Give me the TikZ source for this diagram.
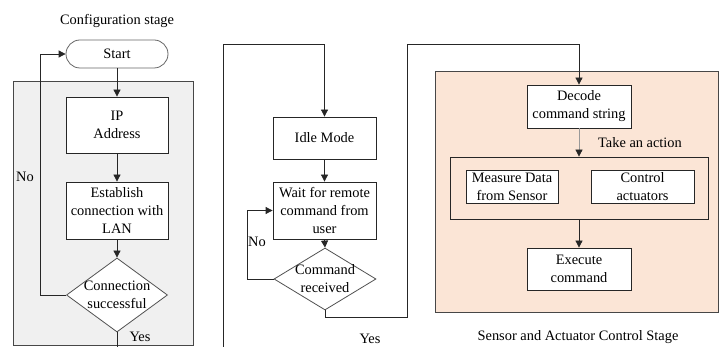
\documentclass[tikz,border=0pt]{standalone}
\usepackage{fontspec}
\setmainfont{Liberation Serif}
\usetikzlibrary{arrows.meta,shapes.geometric,calc}
\definecolor{panelgray}{HTML}{F0F0F0}
\definecolor{peach}{HTML}{FBE5D6}
\definecolor{edge}{HTML}{262626}
\begin{document}
\begin{tikzpicture}[x=1pt,y=-1pt,
  font=\fontsize{14.4}{18}\selectfont,
  box/.style={draw=edge,fill=white,line width=0.8pt,align=center,inner sep=1pt,minimum width=#1},
  box/.default=102pt,
  dia/.style={draw=edge!80,fill=white,line width=0.8pt,diamond,inner sep=0pt},
  lbl/.style={inner sep=0pt,align=center},
  arr/.style={draw=edge,line width=0.8pt,-{Triangle[length=7pt,width=7pt]}},
  ln/.style={draw=edge,line width=0.8pt},
  panel/.style={draw=edge!85,line width=0.9pt}]
\useasboundingbox (0,0) rectangle (725,347);
% ---------- configuration stage ----------
\node[lbl] (conflbl) at (117,21) {Configuration stage};
\path[panel,fill=panelgray] (13,81) rectangle (193,345);
\node[draw=edge!70,fill=white,line width=0.8pt,rounded corners=14pt,minimum width=102pt,minimum height=28pt,inner sep=0pt] (start) at (117,54) {Start};
\node[box,minimum height=56pt] (ip) at (117,125) {IP\\Address};
\node[box,minimum height=57pt] (est) at (117,210.5) {Establish\\connection with\\LAN};
\node[dia,minimum width=101pt,minimum height=74pt] (conn) at (117,295) {};
\node[lbl] (conntxt) at (conn.center) {Connection\\successful};
\coordinate (connend) at (117,347);
\draw[arr] (start.south) -- (ip.north);
\draw[arr] (ip.south) -- (est.north);
\draw[arr] (est.south) -- (conn.north);
\draw[arr] (conn.west) -- ++(-26,0) |- (start.west);
\draw[ln] (conn.south) -- (connend);
\node[lbl] (no1) at (25,177) {No};
\node[lbl] (yes1) at (140,337) {Yes};
% ---------- middle ----------
\coordinate (midin) at (223,347);
\node[box=103pt,minimum height=42pt] (idle) at (324.5,138) {Idle Mode};
\node[box=103pt,minimum height=57pt] (wait) at (324.5,210.5) {Wait for remote\\command from\\user};
\node[dia,minimum width=102pt,minimum height=62pt] (cmd) at (325,279) {};
\node[lbl] (cmdtxt) at (cmd.center) {Command\\received};
\draw[arr] (midin) -- (223,44) -| (idle.north);
\draw[arr] (idle.south) -- (wait.north);
\draw[arr] (wait.south) -- (cmd.north);
\draw[arr] (cmd.west) -- ++(-26,0) |- (wait.west);
\node[lbl] (no2) at (257,242) {No};
\node[lbl] (yes2) at (370,339) {Yes};
% ---------- sensor and actuator stage ----------
\path[panel,fill=peach] (435,71) rectangle (718,312);
\node[box=104pt,minimum height=43pt] (dec) at (579,106.5) {Decode\\command string};
\node[draw=edge,line width=0.8pt,minimum width=258pt,minimum height=62pt,inner sep=0pt] (act) at (579,188) {};
\node[box=92pt,minimum height=33pt] (meas) at (512,186.5) {Measure Data\\from Sensor};
\node[box=103pt,minimum height=33pt] (ctrl) at (642.5,186.5) {Control\\actuators};
\node[box=104pt,minimum height=42pt] (exec) at (579,269) {Execute\\command};
\node[lbl] (take) at (640,143) {Take an action};
\node[lbl] (stage) at (578,337) {Sensor and Actuator Control Stage};
\draw[arr] (cmd.south) -- (325,317) -- (407,317) -- (407,44) -| (dec.north);
\draw[draw=gray!80,line width=0.8pt,-{Triangle[length=7pt,width=7pt,color=edge]}] (dec.south) -- (act.north);
\draw[arr] (act.south) -- (exec.north);
\end{tikzpicture}
\end{document}
